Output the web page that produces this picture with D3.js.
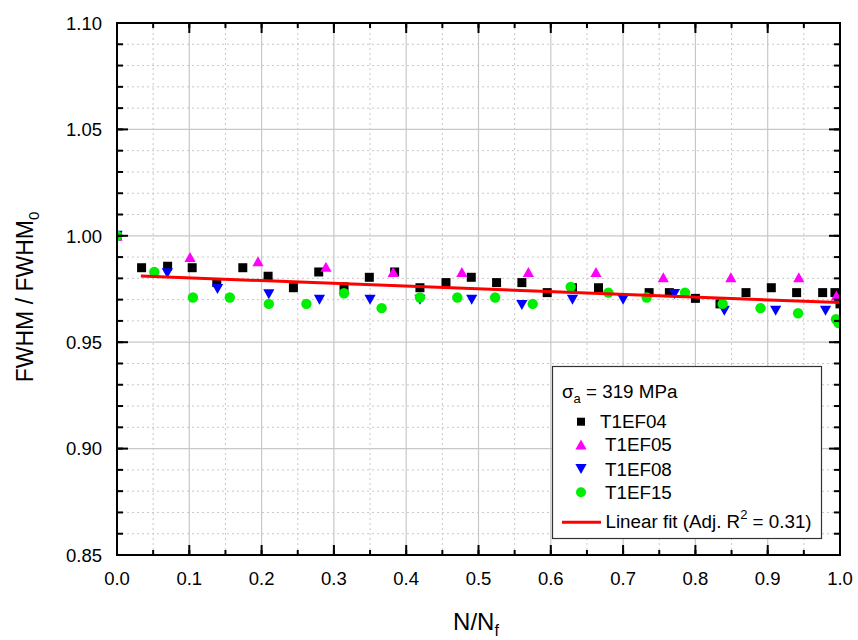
<!DOCTYPE html>
<html>
<head>
<meta charset="utf-8">
<script src="https://cdn.jsdelivr.net/npm/d3@7"></script>
<style>
  body { margin: 0; background: #fff; }
  svg { display: block; font-family: "Liberation Sans", Arial, sans-serif; }
</style>
</head>
<body>
<svg id="chart" width="858" height="640"></svg>
<script>
// Normalised peak width vs. life fraction, four specimens at sigma_a = 319 MPa
const xTicks = [0.0, 0.1, 0.2, 0.3, 0.4, 0.5, 0.6, 0.7, 0.8, 0.9, 1.0];
const yTicks = [0.85, 0.90, 0.95, 1.00, 1.05, 1.10];

const t1ef04X = [0, 0.034, 0.070, 0.104, 0.138, 0.174, 0.209, 0.244, 0.279, 0.314, 0.349, 0.384, 0.419, 0.455, 0.490, 0.525, 0.560, 0.595, 0.630, 0.666, 0.736, 0.764, 0.800, 0.834, 0.870, 0.905, 0.940, 0.976, 0.993, 1.0];
const t1ef04Y = [1.0, 0.985, 0.9857, 0.985, 0.978, 0.985, 0.981, 0.9756, 0.983, 0.976, 0.9805, 0.983, 0.9756, 0.978, 0.9805, 0.978, 0.978, 0.9733, 0.9756, 0.9756, 0.9733, 0.9733, 0.9706, 0.968, 0.9733, 0.9756, 0.9733, 0.9733, 0.9733, 0.968];

const t1ef05X = [0, 0.101, 0.195, 0.289, 0.382, 0.477, 0.569, 0.6625, 0.7556, 0.849, 0.943, 0.995];
const t1ef05Y = [1.0, 0.990, 0.988, 0.9855, 0.983, 0.983, 0.983, 0.983, 0.9805, 0.9805, 0.9805, 0.972];

const t1ef08X = [0, 0.0696, 0.139, 0.210, 0.280, 0.350, 0.419, 0.4906, 0.560, 0.630, 0.700, 0.771, 0.840, 0.911, 0.980];
const t1ef08Y = [1.0, 0.9824, 0.975, 0.9725, 0.970, 0.970, 0.970, 0.970, 0.9675, 0.970, 0.970, 0.9727, 0.9648, 0.9648, 0.9648];

const t1ef15X = [0, 0.0516, 0.105, 0.156, 0.210, 0.262, 0.314, 0.366, 0.419, 0.4707, 0.523, 0.575, 0.6275, 0.6796, 0.7326, 0.7856, 0.8377, 0.890, 0.942, 0.9945, 0.998];
const t1ef15Y = [1.0, 0.983, 0.971, 0.971, 0.968, 0.968, 0.973, 0.966, 0.971, 0.971, 0.971, 0.968, 0.976, 0.9733, 0.971, 0.9733, 0.968, 0.966, 0.9636, 0.9608, 0.959];

// linear fit end points
const fitX = [0.033, 1.0];
const fitY = [0.9811, 0.9686];

const seriesNames = ["T1EF04", "T1EF05", "T1EF08", "T1EF15"];
const seriesColors = ["#000000", "#ff00ff", "#0000ff", "#00ee00"];
const seriesShapes = ["square", "up", "down", "circle"];

const svg = d3.select("#chart");
const pLeft = 117, pRight = 840, pTop = 23, pBottom = 555;

const x = d3.scaleLinear().domain([0, 1]).range([pLeft, pRight]);
const y = d3.scaleLinear().domain([0.85, 1.10]).range([pBottom, pTop]);

// grid: dotted minor, solid major
const g = svg.append("g");
const xMinor = d3.range(0, 10).map(i => 0.05 + i * 0.1);
const yMinor = d3.range(0, 25).map(i => 0.85 + i * 0.01).filter(v => Math.round(v * 100) % 5 !== 0);
g.selectAll(".xmin").data(xMinor).join("line")
  .attr("x1", d => x(d)).attr("x2", d => x(d)).attr("y1", pTop).attr("y2", pBottom)
  .attr("stroke", "#c8c8c8").attr("stroke-width", 1).attr("stroke-dasharray", "2,3");
g.selectAll(".ymin").data(yMinor).join("line")
  .attr("x1", pLeft).attr("x2", pRight).attr("y1", d => y(d)).attr("y2", d => y(d))
  .attr("stroke", "#c8c8c8").attr("stroke-width", 1).attr("stroke-dasharray", "2,3");
g.selectAll(".xmaj").data(xTicks.slice(1, -1)).join("line")
  .attr("x1", d => x(d)).attr("x2", d => x(d)).attr("y1", pTop).attr("y2", pBottom)
  .attr("stroke", "#c8c8c8").attr("stroke-width", 1.2);
g.selectAll(".ymaj").data(yTicks.slice(1, -1)).join("line")
  .attr("x1", pLeft).attr("x2", pRight).attr("y1", d => y(d)).attr("y2", d => y(d))
  .attr("stroke", "#c8c8c8").attr("stroke-width", 1.2);

// clip for markers
svg.append("defs").append("clipPath").attr("id", "plotclip")
  .append("rect").attr("x", pLeft).attr("y", pTop).attr("width", pRight - pLeft).attr("height", pBottom - pTop);

const plot = svg.append("g").attr("clip-path", "url(#plotclip)");

function shapePath(shape, s) {
  const h = s / 2;
  if (shape === "square") return `M${-h},${-h}H${h}V${h}H${-h}Z`;
  if (shape === "up") return `M0,${-h}L${h + 0.6},${h}L${-h - 0.6},${h}Z`;
  if (shape === "down") return `M0,${h}L${h + 0.6},${-h}L${-h - 0.6},${-h}Z`;
  return null;
}

const seriesX = [t1ef04X, t1ef05X, t1ef08X, t1ef15X];
const seriesY = [t1ef04Y, t1ef05Y, t1ef08Y, t1ef15Y];

seriesNames.forEach((name, i) => {
  const pts = seriesX[i].map((v, j) => [v, seriesY[i][j]]);
  const grp = plot.append("g");
  if (seriesShapes[i] === "circle") {
    grp.selectAll("circle").data(pts).join("circle")
      .attr("cx", d => x(d[0])).attr("cy", d => y(d[1])).attr("r", 5.2)
      .attr("fill", seriesColors[i]);
  } else {
    grp.selectAll("path").data(pts).join("path")
      .attr("transform", d => `translate(${x(d[0])},${y(d[1])})`)
      .attr("d", shapePath(seriesShapes[i], seriesShapes[i] === "square" ? 9 : 10))
      .attr("fill", seriesColors[i]);
  }
});

// fit line
plot.append("path")
  .datum(fitX.map((v, j) => [v, fitY[j]]))
  .attr("d", d3.line().x(d => x(d[0])).y(d => y(d[1])))
  .attr("stroke", "#ff0000").attr("stroke-width", 3).attr("fill", "none");

// axes with inward ticks on all four sides
const xMinorAll = d3.range(0, 21).map(i => i * 0.05);
const yMinorAll = d3.range(0, 26).map(i => 0.85 + i * 0.01);

function ticks(sel, vals, len, orient) {
  sel.selectAll(null).data(vals).join("line")
    .attr("stroke", "#000").attr("stroke-width", 2)
    .each(function (d) {
      const l = d3.select(this);
      if (orient === "bottom") l.attr("x1", x(d)).attr("x2", x(d)).attr("y1", pBottom).attr("y2", pBottom - len);
      if (orient === "top") l.attr("x1", x(d)).attr("x2", x(d)).attr("y1", pTop).attr("y2", pTop + len);
      if (orient === "left") l.attr("y1", y(d)).attr("y2", y(d)).attr("x1", pLeft).attr("x2", pLeft + len);
      if (orient === "right") l.attr("y1", y(d)).attr("y2", y(d)).attr("x1", pRight).attr("x2", pRight - len);
    });
}
const ax = svg.append("g");
ticks(ax, xMinorAll, 5, "bottom");
ticks(ax, xMinorAll, 5, "top");
ticks(ax, xTicks, 10, "bottom");
ticks(ax, xTicks, 10, "top");
ticks(ax, yMinorAll, 6, "left");
ticks(ax, yMinorAll, 6, "right");
ticks(ax, yTicks, 11, "left");
ticks(ax, yTicks, 11, "right");

ax.append("rect").attr("x", pLeft).attr("y", pTop).attr("width", pRight - pLeft).attr("height", pBottom - pTop)
  .attr("fill", "none").attr("stroke", "#000").attr("stroke-width", 2);

// tick labels
ax.selectAll(".xl").data(xTicks).join("text")
  .attr("x", d => x(d)).attr("y", 585).attr("text-anchor", "middle")
  .attr("font-size", 18.5).text(d => d3.format(".1f")(d));
ax.selectAll(".yl").data(yTicks).join("text")
  .attr("x", 102).attr("y", d => y(d) + 6.8).attr("text-anchor", "end")
  .attr("font-size", 18.5).text(d => d3.format(".2f")(d));

// axis titles
const xt = svg.append("text").attr("x", 476).attr("y", 630).attr("text-anchor", "middle").attr("font-size", 24);
xt.append("tspan").text("N/N");
xt.append("tspan").attr("font-size", 16).attr("dy", 6).text("f");

const yt = svg.append("text").attr("transform", "translate(33,297) rotate(-90)")
  .attr("text-anchor", "middle").attr("font-size", 23);
yt.append("tspan").text("FWHM / FWHM");
yt.append("tspan").attr("font-size", 15).attr("dy", 6).text("0");

// legend
const lg = svg.append("g");
lg.append("rect").attr("x", 552.5).attr("y", 366.5).attr("width", 269).attr("height", 172)
  .attr("fill", "#fff").attr("stroke", "#333").attr("stroke-width", 1.2);
const st = lg.append("text").attr("x", 562).attr("y", 398).attr("font-size", 18.8);
st.append("tspan").text("σ");
st.append("tspan").attr("font-size", 13).attr("dy", 5).text("a");
st.append("tspan").attr("dy", -5).text(" = 319 MPa");

const legY = [421.7, 444.5, 469, 492.3];
const legTextX = [600, 605, 605, 605];
seriesNames.forEach((name, i) => {
  if (seriesShapes[i] === "circle") {
    lg.append("circle").attr("cx", 581).attr("cy", legY[i]).attr("r", 5).attr("fill", seriesColors[i]);
  } else {
    lg.append("path").attr("transform", `translate(581,${legY[i]})`)
      .attr("d", shapePath(seriesShapes[i], seriesShapes[i] === "square" ? 8 : 10))
      .attr("fill", seriesColors[i]);
  }
  lg.append("text").attr("x", legTextX[i]).attr("y", legY[i] + 6.5).attr("font-size", 18.8).text(name);
});
lg.append("line").attr("x1", 562).attr("x2", 601).attr("y1", 522.3).attr("y2", 522.3)
  .attr("stroke", "#ff0000").attr("stroke-width", 3);
const ft = lg.append("text").attr("x", 605.5).attr("y", 528).attr("font-size", 18.8);
ft.append("tspan").text("Linear fit (Adj. R");
ft.append("tspan").attr("font-size", 13).attr("dy", -9).text("2");
ft.append("tspan").attr("dy", 9).text(" = 0.31)");
</script>
</body>
</html>
